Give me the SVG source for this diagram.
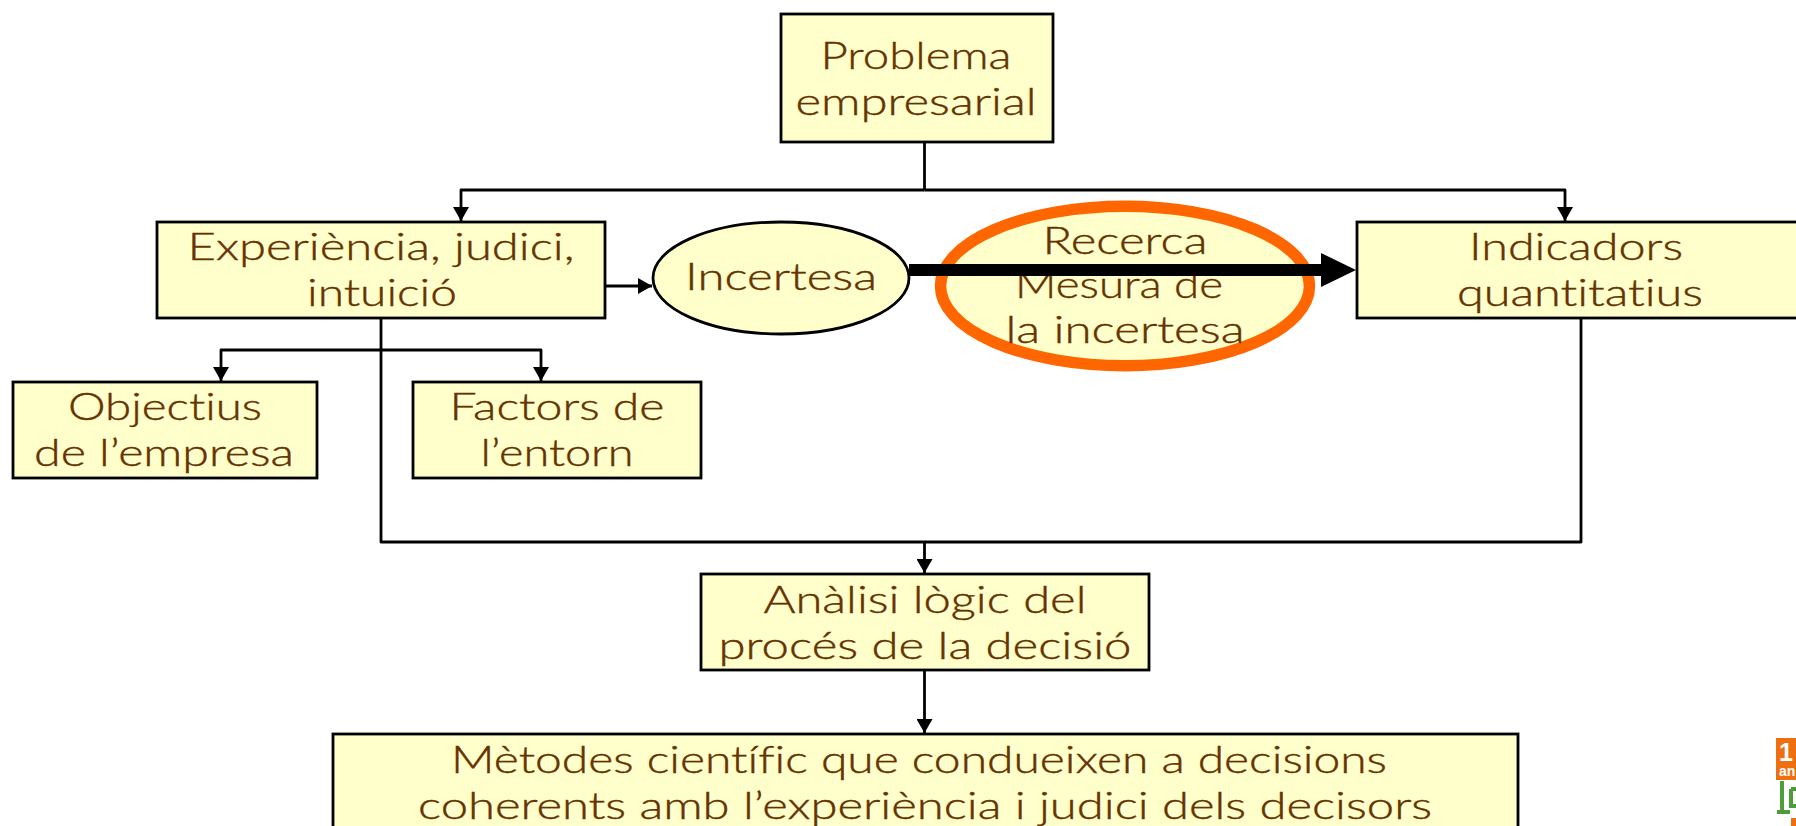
<svg xmlns="http://www.w3.org/2000/svg" width="1796" height="826" viewBox="0 0 1796 826">
<style>
.n{fill:#FFFFCC;stroke:#000;stroke-width:2.8}
.t{font-family:"Lato","Open Sans","Liberation Sans",sans-serif;font-weight:300;font-size:37px;fill:#663300;stroke:#663300;stroke-width:.4;text-anchor:middle;font-variant-ligatures:none;font-feature-settings:"liga" 0}
.c{fill:none;stroke:#000;stroke-width:2.8;stroke-linejoin:round}
</style>
<defs>
<marker id="a" markerUnits="userSpaceOnUse" markerWidth="15" markerHeight="16" refX="14" refY="8" orient="auto"><path d="M0 0L14 8L0 16Z" fill="#000"/></marker>
</defs>
<rect width="1796" height="826" fill="#fff"/>
<g id="connectors">
<path class="c" d="M924.5 142V190"/>
<path class="c" marker-end="url(#a)" d="M924.5 190H461V221"/>
<path class="c" marker-end="url(#a)" d="M924.5 190H1565V221"/>
<path class="c" marker-end="url(#a)" d="M605 286H652"/>
<path class="c" d="M381 318V542H1581V318"/>
<path class="c" marker-end="url(#a)" d="M381 350H221V381"/>
<path class="c" marker-end="url(#a)" d="M381 350H541V381"/>
<path class="c" marker-end="url(#a)" d="M924.5 542V573"/>
<path class="c" marker-end="url(#a)" d="M924.5 670V733"/>
</g>
<g id="problema"><rect class="n" x="781" y="14" width="272" height="128"/>
<text class="t" x="916" y="69" textLength="191" lengthAdjust="spacingAndGlyphs">Problema</text><text class="t" x="916" y="115" textLength="241" lengthAdjust="spacingAndGlyphs">empresarial</text></g>
<g id="experiencia"><rect class="n" x="157" y="222" width="448" height="96"/>
<text class="t" x="381" y="260" textLength="387" lengthAdjust="spacingAndGlyphs">Experiència, judici,</text><text class="t" x="382" y="306" textLength="150" lengthAdjust="spacingAndGlyphs">intuició</text></g>
<g id="objectius"><rect class="n" x="13" y="382" width="304" height="96"/>
<text class="t" x="165" y="420" textLength="194" lengthAdjust="spacingAndGlyphs">Objectius</text><text class="t" x="164" y="466" textLength="260" lengthAdjust="spacingAndGlyphs">de l’empresa</text></g>
<g id="factors"><rect class="n" x="413" y="382" width="288" height="96"/>
<text class="t" x="557" y="420" textLength="215" lengthAdjust="spacingAndGlyphs">Factors de</text><text class="t" x="557" y="466" textLength="153" lengthAdjust="spacingAndGlyphs">l’entorn</text></g>
<g id="incertesa"><ellipse class="n" cx="781" cy="278" rx="128" ry="56"/>
<text class="t" x="781" y="290" textLength="192" lengthAdjust="spacingAndGlyphs">Incertesa</text></g>
<g id="recerca"><ellipse cx="1125" cy="286" rx="184.5" ry="79.7" fill="#FFFFCC" stroke="#FF6600" stroke-width="11.5"/>
<text class="t" x="1125" y="254" textLength="165" lengthAdjust="spacingAndGlyphs">Recerca</text><text class="t" x="1119" y="298" textLength="208" lengthAdjust="spacingAndGlyphs">Mesura de</text><text class="t" x="1125" y="343" textLength="239" lengthAdjust="spacingAndGlyphs">la incertesa</text></g>
<g id="indicadors"><rect class="n" x="1357" y="222" width="445" height="96"/>
<text class="t" x="1576" y="260" textLength="214" lengthAdjust="spacingAndGlyphs">Indicadors</text><text class="t" x="1580" y="306" textLength="246" lengthAdjust="spacingAndGlyphs">quantitatius</text></g>
<g id="analisi"><rect class="n" x="701" y="574" width="448" height="96"/>
<text class="t" x="925" y="613" textLength="323" lengthAdjust="spacingAndGlyphs">Anàlisi lògic del</text><text class="t" x="925" y="659" textLength="413" lengthAdjust="spacingAndGlyphs">procés de la decisió</text></g>
<g id="metodes"><rect class="n" x="333" y="734" width="1185" height="100"/>
<text class="t" x="919" y="773" textLength="936" lengthAdjust="spacingAndGlyphs">Mètodes científic que condueixen a decisions</text><text class="t" x="925" y="819" textLength="1014" lengthAdjust="spacingAndGlyphs">coherents amb l’experiència i judici dels decisors</text></g>
<g id="fletxa"><path d="M909 264H1321V253L1356 270L1321 287V276H909Z" fill="#000"/></g>
<g id="logo"><rect x="1776" y="738" width="20" height="42" fill="#EE6F10"/>
<text x="1779" y="761" font-family="Liberation Sans,sans-serif" font-weight="700" font-size="25" fill="#fff">1</text>
<text x="1779" y="776" font-family="Liberation Sans,sans-serif" font-weight="700" font-size="14" fill="#fff">an</text>
<path d="M1782 781V812M1777 812H1790M1791 789H1796M1791 789V806H1796" fill="none" stroke="#4C9E38" stroke-width="4"/>
<path d="M1791 818H1796V826H1791Z" fill="#EE6F10"/></g>
</svg>
